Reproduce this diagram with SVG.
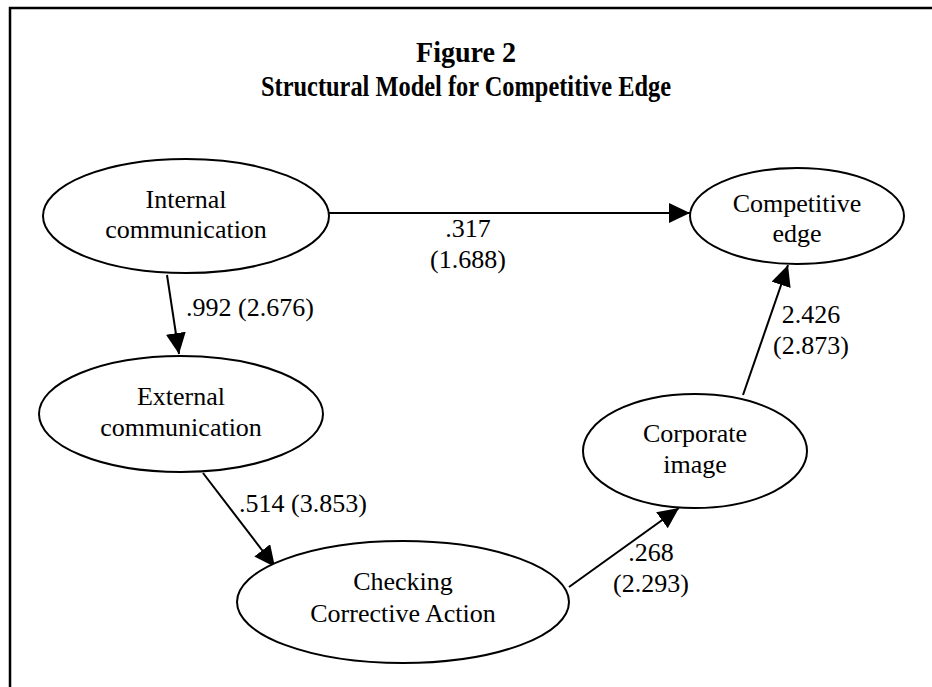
<svg xmlns="http://www.w3.org/2000/svg" width="932" height="687" viewBox="0 0 932 687">
<style>
text{font-family:"Liberation Serif","Times New Roman",serif;font-size:26px;fill:#000}
.t{font-weight:bold;text-anchor:middle;font-size:29px}
.c{text-anchor:middle}
ellipse{fill:#fff;stroke:#000;stroke-width:2}
.e{stroke:#000;stroke-width:2;fill:none;marker-end:url(#ah)}
</style>
<defs>
<marker id="ah" markerUnits="userSpaceOnUse" markerWidth="22" markerHeight="22" refX="21" refY="10" orient="auto">
<path d="M0,0 L21,10 L0,20 z" fill="#000"/>
</marker>
</defs>
<rect width="932" height="687" fill="#fff"/>
<path d="M10,687 V8 H932" fill="none" stroke="#000" stroke-width="2.5"/>
<g id="title">
<text class="t" x="466" y="62" textLength="100" lengthAdjust="spacingAndGlyphs">Figure 2</text>
<text class="t" x="466" y="96" textLength="410" lengthAdjust="spacingAndGlyphs">Structural Model for Competitive Edge</text>
</g>
<g id="connectors">
<line class="e" x1="328" y1="213" x2="690" y2="213"/>
<line class="e" x1="167" y1="275" x2="179" y2="354"/>
<line class="e" x1="203" y1="473" x2="275" y2="567"/>
<line class="e" x1="569" y1="587" x2="679" y2="508"/>
<line class="e" x1="743" y1="395" x2="788" y2="265"/>
<text class="c" x="468" y="237">.317</text>
<text class="c" x="468" y="268">(1.688)</text>
<text x="186" y="316">.992 (2.676)</text>
<text x="239" y="512">.514 (3.853)</text>
<text class="c" x="651" y="561">.268</text>
<text class="c" x="651" y="592">(2.293)</text>
<text class="c" x="811" y="323">2.426</text>
<text class="c" x="811" y="354">(2.873)</text>
</g>
<g id="internal">
<ellipse cx="186" cy="216" rx="143" ry="57"/>
<text class="c" x="186" y="208">Internal</text>
<text class="c" x="186" y="238">communication</text>
</g>
<g id="competitive">
<ellipse cx="797" cy="216" rx="107" ry="48"/>
<text class="c" x="797" y="212">Competitive</text>
<text class="c" x="797" y="242">edge</text>
</g>
<g id="external">
<ellipse cx="181" cy="414" rx="142" ry="58"/>
<text class="c" x="181" y="405">External</text>
<text class="c" x="181" y="436">communication</text>
</g>
<g id="checking">
<ellipse cx="403" cy="602" rx="166" ry="61"/>
<text class="c" x="403" y="590">Checking</text>
<text class="c" x="403" y="622">Corrective Action</text>
</g>
<g id="corporate">
<ellipse cx="695" cy="451" rx="112" ry="57"/>
<text class="c" x="695" y="442">Corporate</text>
<text class="c" x="695" y="473">image</text>
</g>
</svg>
